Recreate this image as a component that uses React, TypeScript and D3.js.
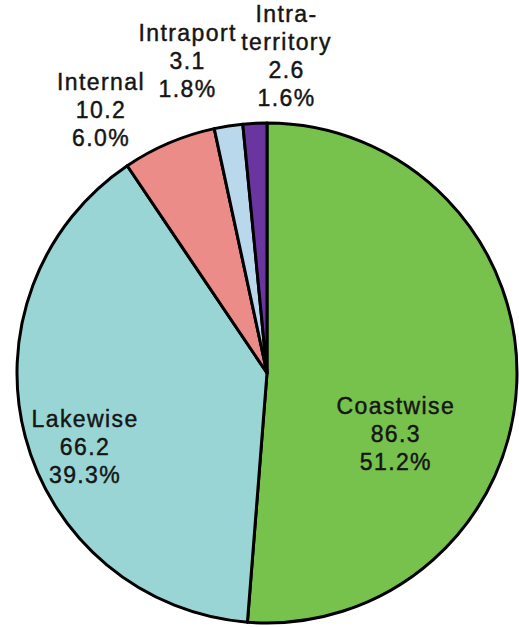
import React from "react";
import * as d3 from "d3";

const categories = ["Coastwise", "Lakewise", "Internal", "Intraport", "Intra-territory"];
const values = [86.3, 66.2, 10.2, 3.1, 2.6];
const percentLabels = ["51.2%", "39.3%", "6.0%", "1.8%", "1.6%"];
const nameLines = [["Coastwise"], ["Lakewise"], ["Internal"], ["Intraport"], ["Intra-", "territory"]];

const colors = ["#77C14D", "#9AD5D6", "#EC8C88", "#B9D8EC", "#6A359F"];

// label placement, polar (degrees clockwise from 12 o'clock, radius in px)
const labelAngles = [115.5, 248, 327.7, 345.6, 3.4];
const labelRadii = [142, 197, 312, 322, 317.6];

const W = 519;
const H = 627;
const CX = 267;
const CY = 373;
const R = 250;
const FONT = 23;
const LINE = 28;
const LS = 1.4;

export default function App() {
  const pie = d3.pie<number>().sort(null).value((d) => d);
  const arcs = pie(values);
  const arc = d3.arc<d3.PieArcDatum<number>>().innerRadius(0).outerRadius(R);

  return (
    <svg
      width={W}
      height={H}
      style={{ position: "absolute", left: 0, top: 0, background: "#fff" }}
      fontFamily="'Liberation Sans', Arial, sans-serif"
    >
      <g transform={`translate(${CX},${CY})`}>
        {arcs.map((a, i) => (
          <path key={i} d={arc(a) || ""} fill={colors[i]} stroke="#000" strokeWidth={3} strokeLinejoin="round" />
        ))}
        {arcs.map((a, i) => {
          const ang = (labelAngles[i] * Math.PI) / 180;
          const x = labelRadii[i] * Math.sin(ang);
          const y = -labelRadii[i] * Math.cos(ang);
          const lines = [...nameLines[i], String(values[i]), percentLabels[i]];
          const y0 = y - ((lines.length - 1) * LINE) / 2;
          return (
            <text
              key={"t" + i}
              textAnchor="middle"
              fontSize={FONT}
              fill="#151515"
              stroke="#151515"
              strokeWidth={0.45}
              letterSpacing={LS}
              aria-label={categories[i]}
            >
              {lines.map((l, j) => (
                <tspan key={j} x={x + LS / 2} y={y0 + j * LINE + FONT * 0.36}>
                  {l}
                </tspan>
              ))}
            </text>
          );
        })}
      </g>
    </svg>
  );
}
